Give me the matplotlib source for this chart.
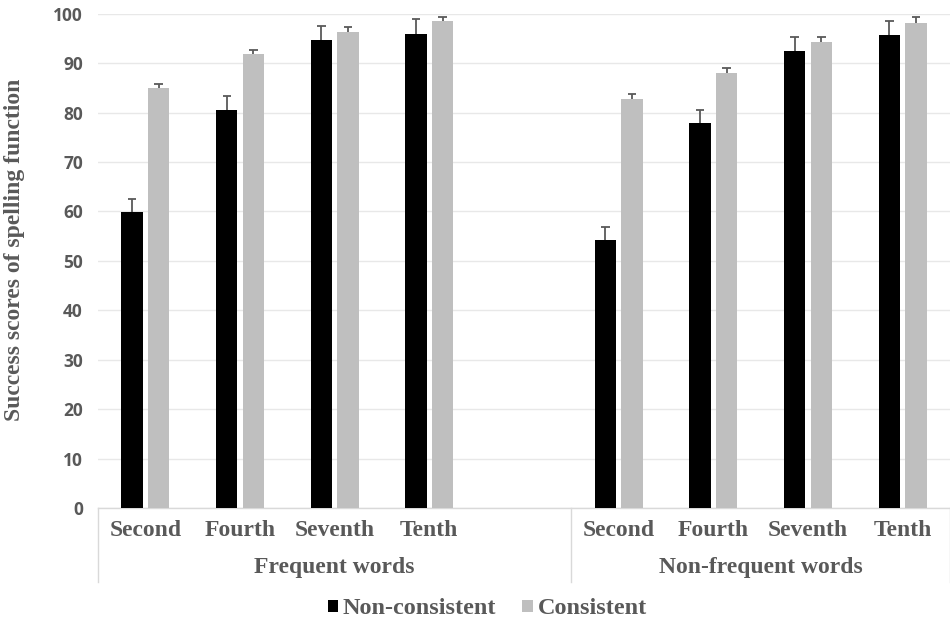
#!/usr/bin/env python3

# +
# import(s)
# -
import numpy as np
import matplotlib as mpl
mpl.use('Agg')
import matplotlib.pyplot as plt
import matplotlib.transforms as mtransforms
from matplotlib.patches import Patch


# +
# data
# -
groups = ['Frequent words', 'Non-frequent words']
grades = ['Second', 'Fourth', 'Seventh', 'Tenth']
series = ['Non-consistent', 'Consistent']

freq_nc = [59.8, 80.5, 94.6, 95.9]
freq_nc_err = [2.7, 2.8, 3.0, 3.1]
freq_c = [84.9, 91.8, 96.4, 98.5]
freq_c_err = [0.9, 0.9, 0.9, 0.9]

nonfreq_nc = [54.3, 77.9, 92.4, 95.6]
nonfreq_nc_err = [2.6, 2.7, 2.8, 3.0]
nonfreq_c = [82.7, 88.0, 94.2, 98.2]
nonfreq_c_err = [1.0, 1.0, 1.0, 1.2]

yticks = [0, 10, 20, 30, 40, 50, 60, 70, 80, 90, 100]


# +
# style
# -
GREY_TXT = '#595959'
C_NC = '#000000'
C_C = '#bfbfbf'
SERIF = ['Liberation Serif', 'DejaVu Serif']
SANS = ['Open Sans', 'DejaVu Sans']


# +
# plot
# -
fig = plt.figure(figsize=(9.5, 6.23), dpi=100)
ax = fig.add_axes([0.1032, 0.1846, 0.8968, 0.7934])

# slot positions: 4 grades, an empty slot, then 4 grades
x_freq = np.arange(len(grades))
x_nonfreq = np.arange(len(grades)) + len(grades) + 1
x_all = np.concatenate([x_freq, x_nonfreq])

nc_vals = np.array(freq_nc + nonfreq_nc)
nc_errs = np.array(freq_nc_err + nonfreq_nc_err)
c_vals = np.array(freq_c + nonfreq_c)
c_errs = np.array(freq_c_err + nonfreq_c_err)

width = 0.225
off = 0.14
cap = 0.045

for _x, _v, _e, _c in [(x_all - off, nc_vals, nc_errs, C_NC),
                       (x_all + off, c_vals, c_errs, C_C)]:
    ax.bar(_x, _v, width, color=_c, zorder=3)
    # upper-only error bars
    ax.vlines(_x, _v, _v + _e, color=GREY_TXT, lw=1.3, zorder=4)
    ax.hlines(_v + _e, _x - cap, _x + cap, color=GREY_TXT, lw=1.3, zorder=4)

# axes
ax.set_xlim(-0.5, len(x_freq) + len(x_nonfreq) + 0.5)
ax.set_ylim(0, 100)
ax.set_yticks(yticks)
ax.set_yticklabels([str(v) for v in yticks], family=SANS, fontweight='bold',
                   fontsize=12.5, color=GREY_TXT)
ax.tick_params(axis='y', length=0, pad=11)
ax.set_xticks([])
ax.grid(axis='y', color='#e8e8e8', lw=1.0, zorder=0)
ax.set_axisbelow(True)
for _s in ['top', 'right', 'left']:
    ax.spines[_s].set_visible(False)
ax.spines['bottom'].set_color('#d9d9d9')
ax.spines['bottom'].set_linewidth(1.0)

# hierarchical category axis
trans = mtransforms.blended_transform_factory(ax.transData, ax.transAxes)
for _x, _g in zip(x_all, grades + grades):
    ax.text(_x, -0.045, _g, transform=trans, ha='center', va='center',
            family=SERIF, fontweight='bold', fontsize=17, color=GREY_TXT)
bounds = [-0.5, len(grades) + 0.5, len(x_all) + 0.5]
group_centers = [(bounds[0] + bounds[1]) / 2, (bounds[1] + bounds[2]) / 2]
for _x, _g in zip(group_centers, groups):
    ax.text(_x, -0.12, _g, transform=trans, ha='center', va='center',
            family=SERIF, fontweight='bold', fontsize=17, color=GREY_TXT)
for _b in bounds:
    ax.plot([_b, _b], [0, -0.15], transform=trans, color='#d9d9d9', lw=1.0,
            clip_on=False)

# y label
fig.text(0.015, 1 - 250 / 623, 'Success scores of spelling function', rotation=90,
         ha='center', va='center', family=SERIF, fontweight='bold',
         fontsize=17, color=GREY_TXT)

# legend
handles = [Patch(facecolor=C_NC, edgecolor='none'), Patch(facecolor=C_C, edgecolor='none')]
fig.legend(handles, series, loc='center', bbox_to_anchor=(0.513, 1 - 609 / 623),
           ncol=2, frameon=False, handlelength=0.42, handleheight=0.42,
           handletextpad=0.2, columnspacing=1.07,
           prop={'family': SERIF, 'weight': 'bold', 'size': 17.5},
           labelcolor=GREY_TXT)

# output(s)
plt.savefig('out.png', dpi=100)
